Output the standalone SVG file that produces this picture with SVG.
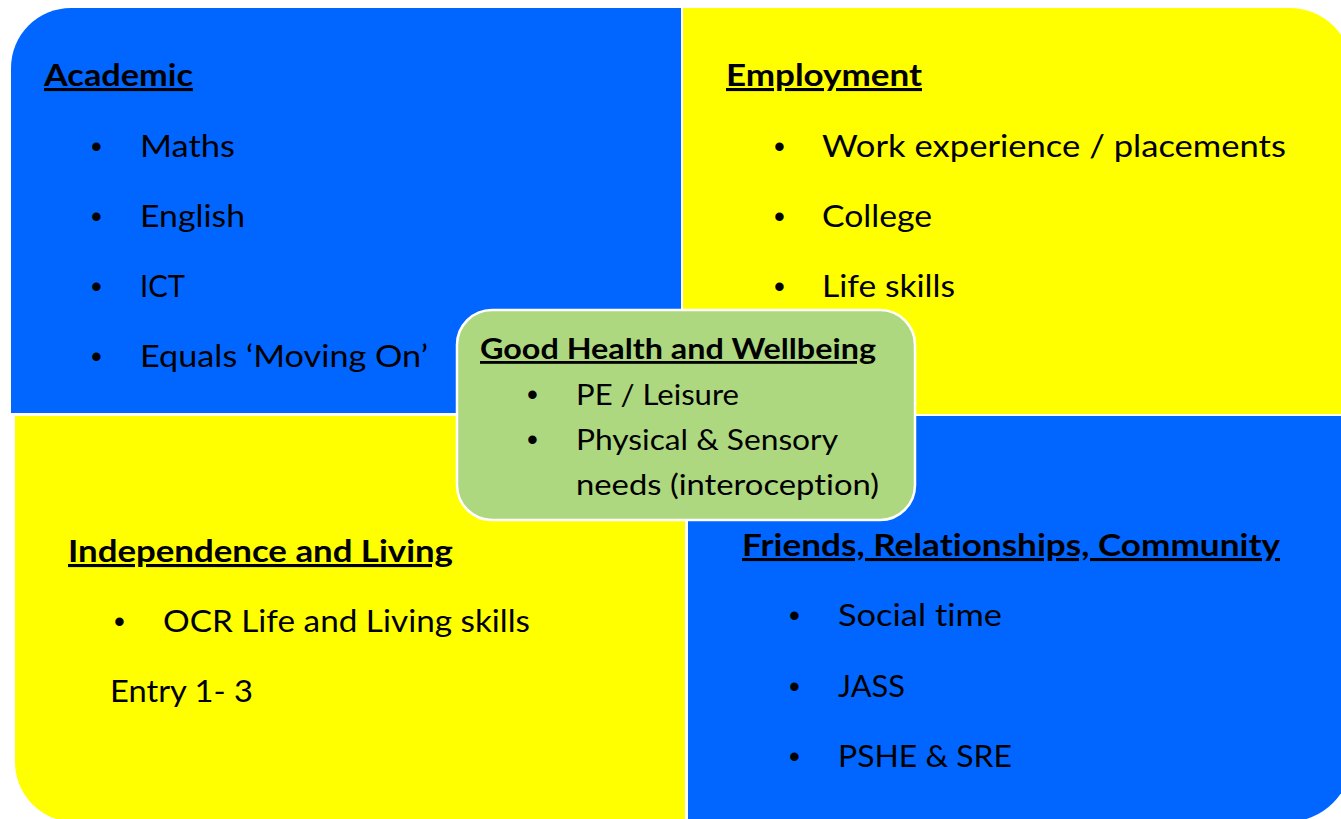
<svg xmlns="http://www.w3.org/2000/svg" width="1341" height="819" viewBox="0 0 1341 819">
<style>
.blue{fill:#0066FF}
.yellow{fill:#FFFF00}
.t{font-family:Lato,"Liberation Sans",sans-serif;fill:#000;font-size:31px;font-variant-ligatures:none}
.b{font-family:"Liberation Sans",sans-serif;fill:#000;font-size:31px}
.h{font-weight:bold;text-decoration:underline}
.s{font-size:28px}
</style>
<rect width="1341" height="819" fill="#fff"/>
<g id="academic">
<path class="blue" d="M11,413 V68 A60,60 0 0 1 71,8 H681 V413 Z"/>
<text class="t h" x="44" y="86" textLength="149" lengthAdjust="spacingAndGlyphs">Academic</text>
<text class="b" x="91" y="157">•</text>
<text class="t" x="140" y="157" textLength="95" lengthAdjust="spacingAndGlyphs">Maths</text>
<text class="b" x="91" y="227">•</text>
<text class="t" x="140" y="227" textLength="105" lengthAdjust="spacingAndGlyphs">English</text>
<text class="b" x="91" y="297">•</text>
<text class="t" x="140" y="297" textLength="45" lengthAdjust="spacingAndGlyphs">ICT</text>
<text class="b" x="91" y="367">•</text>
<text class="t" x="140" y="367" textLength="288" lengthAdjust="spacingAndGlyphs">Equals ‘Moving On’</text>
</g>
<g id="employment">
<path class="yellow" d="M683,8 H1290 A62,62 0 0 1 1352,70 V414 H683 Z"/>
<text class="t h" x="726" y="86" textLength="196" lengthAdjust="spacingAndGlyphs">Employment</text>
<text class="b" x="774" y="157">•</text>
<text class="t" x="822" y="157" textLength="464" lengthAdjust="spacingAndGlyphs">Work experience / placements</text>
<text class="b" x="774" y="227">•</text>
<text class="t" x="822" y="227" textLength="110" lengthAdjust="spacingAndGlyphs">College</text>
<text class="b" x="774" y="297">•</text>
<text class="t" x="822" y="297" textLength="133" lengthAdjust="spacingAndGlyphs">Life skills</text>
</g>
<g id="independence">
<path class="yellow" d="M15,416 H685 V822 H75 A60,60 0 0 1 15,762 Z"/>
<text class="t h" x="68" y="562" textLength="385" lengthAdjust="spacingAndGlyphs">Independence and Living</text>
<text class="b" x="114" y="632">•</text>
<text class="t" x="163" y="632" textLength="367" lengthAdjust="spacingAndGlyphs">OCR Life and Living skills</text>
<text class="t" x="110" y="702" textLength="143" lengthAdjust="spacingAndGlyphs">Entry 1- 3</text>
</g>
<g id="friends">
<path class="blue" d="M688,416 H1352 V757 A65,65 0 0 1 1287,822 H688 Z"/>
<text class="t h" x="742" y="556" textLength="538" lengthAdjust="spacingAndGlyphs">Friends, Relationships, Community</text>
<text class="b" x="789" y="626">•</text>
<text class="t" x="838" y="626" textLength="164" lengthAdjust="spacingAndGlyphs">Social time</text>
<text class="b" x="789" y="697">•</text>
<text class="t" x="838" y="697" textLength="67" lengthAdjust="spacingAndGlyphs">JASS</text>
<text class="b" x="789" y="767">•</text>
<text class="t" x="838" y="767" textLength="174" lengthAdjust="spacingAndGlyphs">PSHE &amp; SRE</text>
</g>
<g id="wellbeing">
<rect x="457" y="310" width="458" height="210" rx="35" fill="#ADD87F" stroke="#fff" stroke-width="2.5"/>
<text class="t s h" x="480" y="359" textLength="396" lengthAdjust="spacingAndGlyphs">Good Health and Wellbeing</text>
<text class="b" x="527" y="405" font-size="28">•</text>
<text class="t s" x="576" y="405" textLength="163" lengthAdjust="spacingAndGlyphs">PE / Leisure</text>
<text class="b" x="527" y="450" font-size="28">•</text>
<text class="t s" x="576" y="450" textLength="262" lengthAdjust="spacingAndGlyphs">Physical &amp; Sensory</text>
<text class="t s" x="576" y="495" textLength="303" lengthAdjust="spacingAndGlyphs">needs (interoception)</text>
</g>
<g id="connectors"/>
</svg>
